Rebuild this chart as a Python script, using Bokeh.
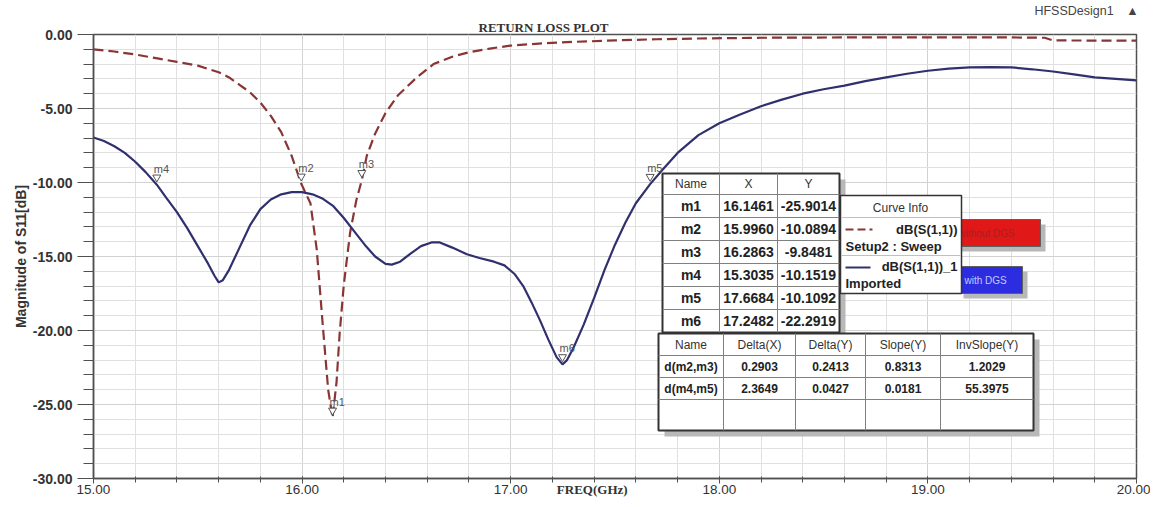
from bokeh.plotting import figure
from bokeh.models import Range1d, SingleIntervalTicker, Title
from bokeh.core.properties import value
from bokeh.embed import file_html
from bokeh.resources import INLINE

# ---------------- data ----------------
freq_without = [15.00, 15.10, 15.20, 15.30, 15.40, 15.50, 15.60, 15.65, 15.70, 15.75, 15.80, 15.85,
                15.90, 15.95, 15.996, 16.04, 16.07, 16.10, 16.125, 16.146, 16.165, 16.18, 16.20, 16.23,
                16.26, 16.286, 16.31, 16.35, 16.40, 16.46, 16.55, 16.63, 16.72, 16.80, 16.90, 17.00,
                17.15, 17.30, 17.50, 17.70, 17.90, 18.20, 18.60, 19.00, 19.40, 19.56, 19.60, 20.00]
s11_without = [-1.00, -1.15, -1.35, -1.60, -1.85, -2.10, -2.55, -2.90, -3.40, -3.90, -4.60, -5.50,
               -6.60, -8.20, -10.09, -11.40, -14.50, -19.80, -24.00, -25.90, -23.50, -20.20, -16.90, -13.40,
               -11.20, -9.85, -8.20, -6.70, -5.30, -4.10, -2.90, -2.00, -1.50, -1.20, -0.95, -0.75,
               -0.60, -0.50, -0.40, -0.32, -0.27, -0.22, -0.20, -0.20, -0.20, -0.22, -0.40, -0.42]

freq_with = [15.00, 15.05, 15.10, 15.15, 15.20, 15.25, 15.3035, 15.35, 15.40, 15.45, 15.50, 15.55,
             15.58, 15.60, 15.62, 15.65, 15.70, 15.75, 15.80, 15.85, 15.90, 15.95, 16.00, 16.05,
             16.10, 16.15, 16.20, 16.25, 16.30, 16.35, 16.40, 16.43, 16.47, 16.52, 16.57, 16.62,
             16.66, 16.72, 16.79, 16.85, 16.92, 16.97, 17.02, 17.06, 17.10, 17.14, 17.18, 17.22,
             17.2482, 17.27, 17.30, 17.35, 17.40, 17.45, 17.50, 17.55, 17.60, 17.6684, 17.73, 17.80,
             17.90, 18.00, 18.10, 18.20, 18.30, 18.40, 18.50, 18.60, 18.70, 18.80, 18.90, 19.00,
             19.10, 19.20, 19.30, 19.40, 19.50, 19.60, 19.70, 19.80, 19.90, 20.00]
s11_with = [-6.96, -7.20, -7.55, -8.00, -8.60, -9.30, -10.15, -11.05, -12.00, -13.10, -14.30, -15.50,
            -16.30, -16.75, -16.60, -15.90, -14.40, -12.90, -11.80, -11.15, -10.80, -10.65, -10.65, -10.80,
            -11.10, -11.60, -12.40, -13.30, -14.20, -15.00, -15.50, -15.55, -15.35, -14.80, -14.30, -14.05,
            -14.05, -14.40, -14.85, -15.10, -15.35, -15.60, -16.20, -17.00, -18.10, -19.30, -20.60, -21.80,
            -22.29, -22.00, -21.20, -19.60, -17.80, -15.90, -14.20, -12.70, -11.40, -10.11, -9.10, -8.00,
            -6.80, -6.00, -5.40, -4.85, -4.40, -4.00, -3.70, -3.45, -3.15, -2.90, -2.65, -2.45,
            -2.30, -2.22, -2.20, -2.22, -2.35, -2.50, -2.70, -2.90, -3.00, -3.10]

marker_names = ["m1", "m2", "m3", "m4", "m5", "m6"]
marker_x = [16.1461, 15.9960, 16.2863, 15.3035, 17.6684, 17.2482]
marker_y = [-25.9014, -10.0894, -9.8481, -10.1519, -10.1092, -22.2919]

delta_header = ["Name", "Delta(X)", "Delta(Y)", "Slope(Y)", "InvSlope(Y)"]
delta_names = ["d(m2,m3)", "d(m4,m5)"]
delta_x = ["0.2903", "2.3649"]
delta_y = ["0.2413", "0.0427"]
slope_y = ["0.8313", "0.0181"]
inv_slope_y = ["1.2029", "55.3975"]

x_ticks = [15, 16, 17, 18, 19, 20]
x_tick_labels = ["15.00", "16.00", "17.00", "18.00", "19.00", "20.00"]
y_ticks = [-30, -25, -20, -15, -10, -5, 0]
y_tick_labels = ["-30.00", "-25.00", "-20.00", "-15.00", "-10.00", "-5.00", "0.00"]

# ---------------- styles ----------------
C_DASH = "#8a3535"
C_SOLID = "#30306e"
C_AX = "#505050"
SANS = value("Liberation Sans")

p = figure(width=1150, height=502, x_range=Range1d(15, 20), y_range=Range1d(-30, 0),
           min_border_left=93, min_border_right=14, min_border_top=34, min_border_bottom=24,
           output_backend="svg", toolbar_location=None, title=None)
p.background_fill_color = "white"
p.border_fill_color = "white"
p.outline_line_color = C_AX
p.outline_line_width = 1.5

# axes
p.xaxis.ticker = SingleIntervalTicker(interval=1, num_minor_ticks=5)
p.yaxis.ticker = SingleIntervalTicker(interval=5, num_minor_ticks=5)
p.xaxis.major_label_overrides = {t: l for t, l in zip(x_ticks, x_tick_labels)}
p.yaxis.major_label_overrides = {t: l for t, l in zip(y_ticks, y_tick_labels)}
for ax in (p.xaxis, p.yaxis):
    ax.axis_line_color = C_AX
    ax.axis_line_width = 1.5
    ax.major_tick_line_color = C_AX
    ax.minor_tick_line_color = C_AX
    ax.major_label_text_color = "#333333"
    ax.major_label_text_font = "Liberation Sans"
p.xaxis.major_tick_out = 5
p.xaxis.major_tick_in = 2
p.xaxis.minor_tick_out = 4
p.xaxis.minor_tick_in = 2
p.xaxis.major_label_standoff = 1
p.xaxis.major_label_text_font_size = "13.5px"
p.xaxis.axis_label = "FREQ(GHz)" + "\u2003" * 3 + "\u00a0" * 2
p.xaxis.axis_label_text_font = "Liberation Serif"
p.xaxis.axis_label_text_font_size = "13px"
p.xaxis.axis_label_text_font_style = "bold"
p.xaxis.axis_label_text_color = "#333333"
p.xaxis.axis_label_standoff = -15
p.yaxis.major_tick_out = 16
p.yaxis.major_tick_in = 0
p.yaxis.minor_tick_out = 10
p.yaxis.minor_tick_in = 0
p.yaxis.major_label_standoff = 5
p.yaxis.major_label_text_font_size = "14px"
p.yaxis.major_label_text_font_style = "bold"
p.yaxis.axis_label = "Magnitude of S11[dB]"
p.yaxis.axis_label_text_font = "Liberation Sans"
p.yaxis.axis_label_text_font_size = "14px"
p.yaxis.axis_label_text_font_style = "bold"
p.yaxis.axis_label_text_color = "#333333"
p.yaxis.axis_label_standoff = 1

# titles above the frame
p.add_layout(Title(text="RETURN LOSS PLOT", align="left", offset=385, standoff=0,
                   text_font="Liberation Serif", text_font_size="13px", text_font_style="bold",
                   text_color="#333333"), "above")
p.add_layout(Title(text="HFSSDesign1\u2003\u25B2", align="right", offset=-2, standoff=0,
                   text_font="Liberation Sans", text_font_size="12.5px", text_font_style="normal",
                   text_color="#444444"), "above")

# grid
for g in (p.xgrid, p.ygrid):
    g.grid_line_color = "#d2d2d2"
    g.grid_line_width = 1
    g.minor_grid_line_color = "#e0e0e0"
    g.minor_grid_line_width = 1

# curves
p.line(freq_without, s11_without, line_color=C_DASH, line_width=2.2, line_dash="10 5")
p.line(freq_with, s11_with, line_color=C_SOLID, line_width=2.2)

# markers
p.scatter(marker_x, [v + 0.5 for v in marker_y], marker="inverted_triangle", size=8,
          fill_color="white", line_color="#555555", line_width=1)
p.text(marker_x, marker_y, text=marker_names, x_offset=-3, y_offset=-16,
       text_font=SANS, text_font_size=value("11px"), text_color="#555555",
       text_align="left", text_baseline="middle")

# ---------------- helpers for annotation boxes (picture pixel -> data) ----------------
def px_x(px):
    return 15 + (px - 93) / 208.6


def px_y(py):
    return -(py - 34) / 14.8


def box(l, t, r, b, fill, line_color=None, lw=1):
    p.quad(left=px_x(l), right=px_x(r), top=px_y(t), bottom=px_y(b),
           fill_color=fill, line_color=line_color, line_width=lw)


def hlines(ys, l, r, color="#808080", lw=1):
    p.segment(x0=[px_x(l)] * len(ys), y0=[px_y(y) for y in ys],
              x1=[px_x(r)] * len(ys), y1=[px_y(y) for y in ys], line_color=color, line_width=lw)


def vlines(xs, t, b, color="#808080", lw=1):
    p.segment(x0=[px_x(x) for x in xs], y0=[px_y(t)] * len(xs),
              x1=[px_x(x) for x in xs], y1=[px_y(b)] * len(xs), line_color=color, line_width=lw)


def texts(xs, ys, labels, size="13px", bold=False, color="#222222", align="center"):
    p.text([px_x(x) for x in xs], [px_y(y) for y in ys], text=labels,
           text_font=SANS, text_font_size=value(size), text_font_style="bold" if bold else "normal",
           text_color=color, text_align=align, text_baseline="middle")


# red / blue legend tags (behind curve info)
box(955, 224, 1045, 251, "#b8b8b8")
box(950, 219, 1040, 246, "#e01818", "#606060", 1)
texts([958], [232.5], ["without DGS"], size="10px", color="#a82020", align="left")
box(963, 271, 1027, 298, "#b8b8b8")
box(958, 266, 1022, 293, "#2c2ce0", "#606060", 1)
texts([964], [279.5], ["with DGS"], size="10px", color="#c8c8ff", align="left")

# marker table
mt_cols = [662, 719, 777, 839]
mt_rows = [173, 194, 217, 240, 263, 286, 309, 332]
box(668, 179, 845, 338, "#b8b8b8")
box(662, 173, 839, 332, "white", "#333333", 2)
vlines(mt_cols[1:-1], 173, 332)
hlines(mt_rows[1:-1], 662, 839)
col_c = [(mt_cols[i] + mt_cols[i + 1]) / 2 for i in range(3)]
row_c = [(mt_rows[i] + mt_rows[i + 1]) / 2 for i in range(7)]
texts(col_c, [row_c[0]] * 3, ["Name", "X", "Y"], size="12px", color="#333333")
texts([col_c[0]] * 6, row_c[1:], marker_names, size="14px", bold=True)
texts([col_c[1]] * 6, row_c[1:], ["%.4f" % v for v in marker_x], size="14px", bold=True)
texts([col_c[2]] * 6, row_c[1:], ["%.4f" % v for v in marker_y], size="14px", bold=True)

# curve info box
box(840, 195, 961, 293, "white", "#333333", 1.5)
hlines([217, 255], 841, 960, color="#c0c0c0")
texts([900], [207], ["Curve Info"], size="12px", color="#333333")
p.segment(x0=[px_x(845)], y0=[px_y(229)], x1=[px_x(872)], y1=[px_y(229)],
          line_color=C_DASH, line_width=2, line_dash="8 4")
p.segment(x0=[px_x(845)], y0=[px_y(267)], x1=[px_x(870)], y1=[px_y(267)],
          line_color=C_SOLID, line_width=2)
texts([957, 957], [229, 266], ["dB(S(1,1))", "dB(S(1,1))_1"], size="13px", bold=True, align="right")
texts([845, 845], [246, 283], ["Setup2 : Sweep", "Imported"], size="13px", bold=True, align="left")

# delta table
dt_cols = [658, 723, 795, 865, 940, 1033]
dt_rows = [333, 355, 377, 399, 430]
box(664, 339, 1039, 436, "#b8b8b8")
box(658, 333, 1033, 430, "white", "#333333", 2)
vlines(dt_cols[1:-1], 333, 430)
hlines(dt_rows[1:-1], 658, 1033)
dc = [(dt_cols[i] + dt_cols[i + 1]) / 2 for i in range(5)]
dr = [(dt_rows[i] + dt_rows[i + 1]) / 2 for i in range(4)]
texts(dc, [dr[0]] * 5, delta_header, size="12px", color="#333333")
for ci, col in enumerate([delta_names, delta_x, delta_y, slope_y, inv_slope_y]):
    texts([dc[ci]] * 2, dr[1:3], col, size="12px", bold=True)

open("out.html", "w").write(file_html(p, INLINE))
